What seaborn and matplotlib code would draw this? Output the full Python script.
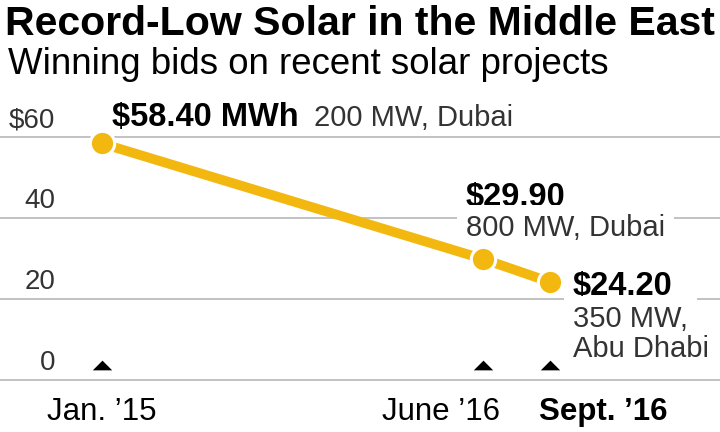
import matplotlib
matplotlib.use("Agg")
import matplotlib.pyplot as plt
import seaborn as sns
import pandas as pd
from matplotlib.path import Path
from matplotlib.transforms import blended_transform_factory

# ---- data ----
dates = ["Jan. \u201915", "June \u201916", "Sept. \u201916"]
months = [0, 17, 20]            # months since Jan 2015
prices = [58.40, 29.90, 24.20]  # $ per MWh
prices_lbl = ["$58.40 MWh", "$29.90", "$24.20"]
details = ["200 MW, Dubai", "800 MW, Dubai", "350 MW,", "Abu Dhabi"]
yticks = [0, 20, 40, 60]
ytick_labels = ["0", "20", "40", "$60"]

title = "Record-Low Solar in the Middle East"
subtitle = "Winning bids on recent solar projects"

YELLOW = "#F3B810"
GRID = "#BDBDBD"
DARK = "#333333"

sns.set_theme(style="white")
plt.rcParams["font.family"] = ["Liberation Sans", "DejaVu Sans"]

fig = plt.figure(figsize=(7.2, 4.32), dpi=100)
ax = fig.add_axes([0, 0, 1, 1])
ax.set_xlim(-4.554, 27.589)
ax.set_ylim(-12.84, 93.83)
ax.axis("off")

# gridlines
for v in yticks:
    ax.axhline(v, color=GRID, lw=1.3, zorder=1)

trans = blended_transform_factory(ax.transAxes, ax.transData)
for v, lab in zip(yticks, ytick_labels):
    ax.annotate(lab, xy=(55 / 720, v), xycoords=trans, xytext=(0, 10),
                textcoords="offset pixels", ha="right", va="baseline",
                fontsize=20, color=DARK, zorder=2)

df = pd.DataFrame({"month": months, "price": prices})
sns.lineplot(data=df, x="month", y="price", ax=ax, color=YELLOW, lw=7,
             marker="o", markersize=17.5, markeredgecolor="white",
             markeredgewidth=2.2, markerfacecolor=YELLOW, zorder=4,
             solid_capstyle="butt")

# small triangles on the baseline
tri = Path([(-1, -0.5), (1, -0.5), (0, 0.5), (-1, -0.5)],
           [Path.MOVETO, Path.LINETO, Path.LINETO, Path.CLOSEPOLY])
ax.scatter(months, [3.6] * len(months), marker=tri, s=14.0 ** 2,
           color="black", linewidths=0, zorder=3)

# date labels
ax.annotate(dates[0], xy=(months[0], 0), xytext=(0, -40),
            textcoords="offset pixels", ha="center", va="baseline",
            fontsize=22.5, color="black")
ax.annotate(dates[1], xy=(months[1], 0), xytext=(17, -40),
            textcoords="offset pixels", ha="right", va="baseline",
            fontsize=22.5, color="black")
ax.annotate(dates[2], xy=(months[2], 0), xytext=(-11, -40),
            textcoords="offset pixels", ha="left", va="baseline",
            fontsize=22.5, color="black", fontweight="bold")

# point annotations
wb = dict(boxstyle="square,pad=0.3", fc="white", ec="none")
ax.annotate(prices_lbl[0], xy=(months[0], prices[0]), xytext=(10, 17),
            textcoords="offset pixels", ha="left", va="baseline",
            fontsize=23.5, fontweight="bold", color="black", zorder=5)
ax.annotate(details[0], xy=(months[0], prices[0]), xytext=(212, 17),
            textcoords="offset pixels", ha="left", va="baseline",
            fontsize=21, color=DARK, zorder=5)

ax.annotate(prices_lbl[1], xy=(months[1], prices[1]), xytext=(-17, 53),
            textcoords="offset pixels", ha="left", va="baseline",
            fontsize=23.5, fontweight="bold", color="black", zorder=2)
ax.annotate(details[1], xy=(months[1], prices[1]), xytext=(-17, 23),
            textcoords="offset pixels", ha="left", va="baseline",
            fontsize=21, color=DARK, bbox=wb, zorder=2)

ax.annotate(prices_lbl[2], xy=(months[2], prices[2]), xytext=(23, -13),
            textcoords="offset pixels", ha="left", va="baseline",
            fontsize=23.5, fontweight="bold", color="black", zorder=2)
ax.annotate(details[2], xy=(months[2], prices[2]), xytext=(23, -45),
            textcoords="offset pixels", ha="left", va="baseline",
            fontsize=21, color=DARK, bbox=wb, zorder=2)
ax.annotate(details[3], xy=(months[2], prices[2]), xytext=(23, -75),
            textcoords="offset pixels", ha="left", va="baseline",
            fontsize=21, color=DARK, zorder=2)

# titles
fig.text(5 / 720, 1 - 35 / 432, title, ha="left", va="baseline",
         fontsize=29.5, fontweight="bold", color="black")
fig.text(8 / 720, 1 - 74 / 432, subtitle, ha="left", va="baseline",
         fontsize=26.4, color="black")

fig.savefig("out.png", dpi=100)
